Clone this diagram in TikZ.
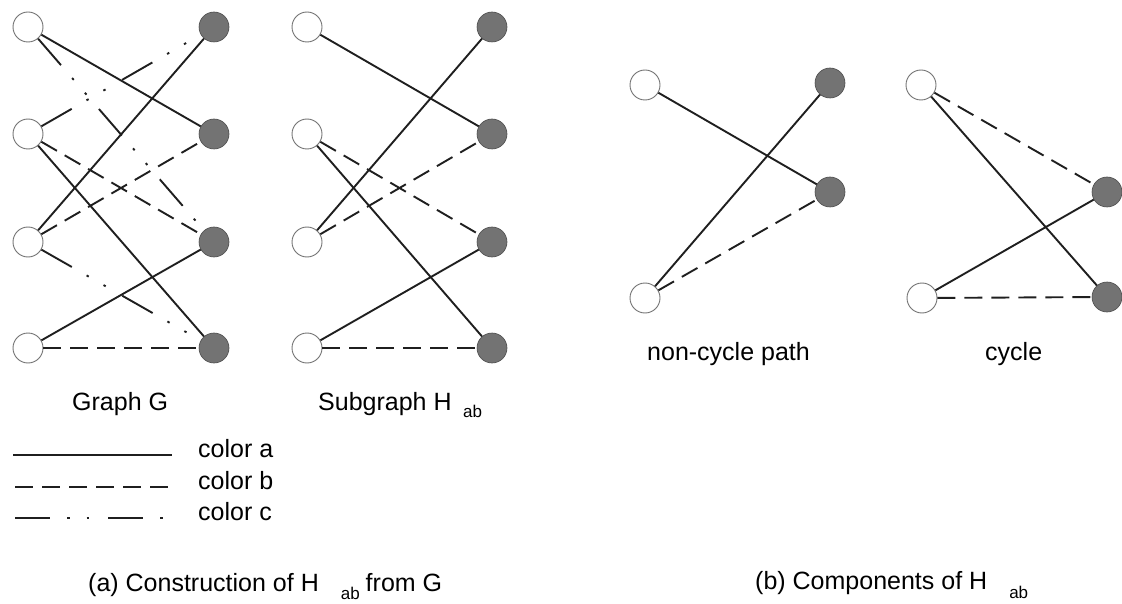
\documentclass[tikz,border=0pt]{standalone}
\usepackage{fontspec}
\setmainfont{Liberation Sans}
\begin{document}
\begin{tikzpicture}[x=1pt,y=-1pt,
  wnode/.style={circle,draw=black!55,line width=0.9pt,fill=white,minimum size=30pt,inner sep=0pt},
  bnode/.style={circle,draw=black!70,line width=0.6pt,fill=black!55,minimum size=30pt,inner sep=0pt},
  edge/.style={line width=1.9pt,draw=black!88},
  cola/.style={edge},
  colb/.style={edge,dash pattern=on 18pt off 9pt},
  colc/.style={edge,dash pattern=on 35pt off 17pt on 2.5pt off 17pt on 2.5pt off 19pt},
  lbl/.style={font=\fontsize{25}{30}\selectfont,inner sep=0pt},
  sub/.style={font=\fontsize{17}{20}\selectfont,inner sep=0pt}]
\useasboundingbox (0,0) rectangle (1122,604);

% ---- Graph G ----
\node[wnode] (gL1) at (28,27) {};
\node[wnode] (gL2) at (28,134) {};
\node[wnode] (gL3) at (28,242) {};
\node[wnode] (gL4) at (28,348) {};
\node[bnode] (gR1) at (214,27) {};
\node[bnode] (gR2) at (214,134) {};
\node[bnode] (gR3) at (214,242) {};
\node[bnode] (gR4) at (214,348) {};
\draw[cola] (gL1) -- (gR2);
\draw[cola] (gL2) -- (gR4);
\draw[cola] (gL3) -- (gR1);
\draw[cola] (gL4) -- (gR3);
\draw[colb] (gL2) -- (gR3);
\draw[colb] (gL3) -- (gR2);
\draw[colb] (gL4) -- (gR4);
\draw[colc] (gL1) -- (gR3);
\draw[colc] (gL2) -- (gR1);
\draw[colc] (gL3) -- (gR4);
\node[lbl,anchor=base west] (capG) at (72,410) {Graph G};

% ---- Subgraph H_ab ----
\node[wnode] (hL1) at (307,27) {};
\node[wnode] (hL2) at (307,134) {};
\node[wnode] (hL3) at (307,242) {};
\node[wnode] (hL4) at (307,348) {};
\node[bnode] (hR1) at (492,27) {};
\node[bnode] (hR2) at (492,134) {};
\node[bnode] (hR3) at (492,242) {};
\node[bnode] (hR4) at (492,348) {};
\draw[cola] (hL1) -- (hR2);
\draw[cola] (hL2) -- (hR4);
\draw[cola] (hL3) -- (hR1);
\draw[cola] (hL4) -- (hR3);
\draw[colb] (hL2) -- (hR3);
\draw[colb] (hL3) -- (hR2);
\draw[colb] (hL4) -- (hR4);
\node[lbl,anchor=base west] (capH) at (318,410) {Subgraph H};
\node[sub,anchor=base west] (capHs) at (463,417) {ab};

% ---- legend ----
\coordinate (la1) at (13,455);  \coordinate (la2) at (172,455);
\coordinate (lb1) at (15,487);  \coordinate (lb2) at (168,487);
\coordinate (lc1) at (15,518);  \coordinate (lc2) at (165,518);
\draw[cola] (la1) -- (la2);
\draw[colb] (lb1) -- (lb2);
\draw[colc] (lc1) -- (lc2);
\node[lbl,anchor=mid west] (txa) at (198,455) {color a};
\node[lbl,anchor=mid west] (txb) at (198,487) {color b};
\node[lbl,anchor=mid west] (txc) at (198,518) {color c};

% ---- non-cycle path ----
\node[wnode] (pL1) at (645,85) {};
\node[wnode] (pL2) at (645,298) {};
\node[bnode] (pR1) at (830,83) {};
\node[bnode] (pR2) at (830,192) {};
\draw[cola] (pL1) -- (pR2);
\draw[cola] (pL2) -- (pR1);
\draw[colb] (pL2) -- (pR2);
\node[lbl,anchor=base west] (capP) at (647,360) {non-cycle path};

% ---- cycle ----
\node[wnode] (cL1) at (921,85) {};
\node[wnode] (cL2) at (922,298) {};
\node[bnode] (cR1) at (1107,192) {};
\node[bnode] (cR2) at (1107,297) {};
\draw[colb] (cL1) -- (cR1);
\draw[cola] (cL1) -- (cR2);
\draw[cola] (cL2) -- (cR1);
\draw[colb] (cL2) -- (cR2);
\node[lbl,anchor=base west] (capC) at (985,360) {cycle};

% ---- captions ----
\node[lbl,anchor=base west] (capa) at (88,591)
  {(a) Construction of H\hspace{22pt}\raisebox{-8pt}{\fontsize{17}{20}\selectfont ab}\hspace{6pt}from G};
\node[lbl,anchor=base west] (capb) at (755,589)
  {(b) Components of H\hspace{22pt}\raisebox{-9pt}{\fontsize{17}{20}\selectfont ab}};
\end{tikzpicture}
\end{document}
